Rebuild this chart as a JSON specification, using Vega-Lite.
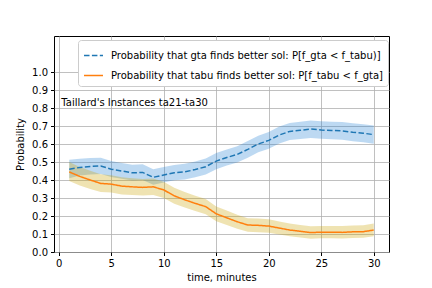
{
  "$schema": "https://vega.github.io/schema/vega-lite/v6.json",
  "width": 335,
  "height": 216,
  "autosize": {"type": "none"},
  "padding": {"left": 54, "top": 36, "right": 43, "bottom": 36},
  "background": "white",
  "config": {
    "font": "DejaVu Sans",
    "view": {"stroke": "black", "strokeWidth": 1},
    "axis": {
      "labelFont": "DejaVu Sans", "labelFontSize": 10, "labelColor": "black",
      "titleFont": "DejaVu Sans", "titleFontSize": 10, "titleFontWeight": "normal", "titleColor": "black",
      "tickColor": "black", "tickSize": 3.5, "domain": false, "labelOverlap": false,
      "gridColor": "#b0b0b0", "gridWidth": 0.8, "labelPadding": 3
    }
  },
  "datasets": {
    "main": [
      {"t":1,"series":"gta","p":0.46,"lo":0.41,"hi":0.512},
      {"t":2,"series":"gta","p":0.47,"lo":0.425,"hi":0.518},
      {"t":3,"series":"gta","p":0.475,"lo":0.43,"hi":0.522},
      {"t":4,"series":"gta","p":0.478,"lo":0.433,"hi":0.523},
      {"t":5,"series":"gta","p":0.46,"lo":0.417,"hi":0.505},
      {"t":6,"series":"gta","p":0.45,"lo":0.407,"hi":0.495},
      {"t":7,"series":"gta","p":0.44,"lo":0.397,"hi":0.485},
      {"t":8,"series":"gta","p":0.442,"lo":0.4,"hi":0.487},
      {"t":9,"series":"gta","p":0.415,"lo":0.374,"hi":0.46},
      {"t":10,"series":"gta","p":0.428,"lo":0.386,"hi":0.472},
      {"t":11,"series":"gta","p":0.44,"lo":0.398,"hi":0.484},
      {"t":12,"series":"gta","p":0.445,"lo":0.403,"hi":0.49},
      {"t":13,"series":"gta","p":0.458,"lo":0.415,"hi":0.503},
      {"t":14,"series":"gta","p":0.474,"lo":0.43,"hi":0.52},
      {"t":15,"series":"gta","p":0.505,"lo":0.46,"hi":0.55},
      {"t":16,"series":"gta","p":0.525,"lo":0.48,"hi":0.57},
      {"t":17,"series":"gta","p":0.542,"lo":0.497,"hi":0.588},
      {"t":18,"series":"gta","p":0.57,"lo":0.524,"hi":0.616},
      {"t":19,"series":"gta","p":0.6,"lo":0.554,"hi":0.646},
      {"t":20,"series":"gta","p":0.62,"lo":0.573,"hi":0.666},
      {"t":21,"series":"gta","p":0.65,"lo":0.603,"hi":0.697},
      {"t":22,"series":"gta","p":0.67,"lo":0.622,"hi":0.717},
      {"t":23,"series":"gta","p":0.676,"lo":0.628,"hi":0.724},
      {"t":24,"series":"gta","p":0.683,"lo":0.634,"hi":0.731},
      {"t":25,"series":"gta","p":0.678,"lo":0.629,"hi":0.727},
      {"t":26,"series":"gta","p":0.675,"lo":0.626,"hi":0.724},
      {"t":27,"series":"gta","p":0.673,"lo":0.624,"hi":0.722},
      {"t":28,"series":"gta","p":0.665,"lo":0.615,"hi":0.715},
      {"t":29,"series":"gta","p":0.66,"lo":0.61,"hi":0.71},
      {"t":30,"series":"gta","p":0.652,"lo":0.602,"hi":0.703},
      {"t":1,"series":"tabu","p":0.445,"lo":0.395,"hi":0.5},
      {"t":2,"series":"tabu","p":0.42,"lo":0.37,"hi":0.472},
      {"t":3,"series":"tabu","p":0.4,"lo":0.35,"hi":0.452},
      {"t":4,"series":"tabu","p":0.381,"lo":0.333,"hi":0.432},
      {"t":5,"series":"tabu","p":0.377,"lo":0.33,"hi":0.427},
      {"t":6,"series":"tabu","p":0.366,"lo":0.32,"hi":0.415},
      {"t":7,"series":"tabu","p":0.362,"lo":0.316,"hi":0.41},
      {"t":8,"series":"tabu","p":0.359,"lo":0.314,"hi":0.406},
      {"t":9,"series":"tabu","p":0.362,"lo":0.317,"hi":0.408},
      {"t":10,"series":"tabu","p":0.345,"lo":0.3,"hi":0.39},
      {"t":11,"series":"tabu","p":0.312,"lo":0.268,"hi":0.357},
      {"t":12,"series":"tabu","p":0.29,"lo":0.247,"hi":0.334},
      {"t":13,"series":"tabu","p":0.27,"lo":0.228,"hi":0.313},
      {"t":14,"series":"tabu","p":0.252,"lo":0.21,"hi":0.294},
      {"t":15,"series":"tabu","p":0.212,"lo":0.171,"hi":0.253},
      {"t":16,"series":"tabu","p":0.19,"lo":0.15,"hi":0.23},
      {"t":17,"series":"tabu","p":0.168,"lo":0.129,"hi":0.207},
      {"t":18,"series":"tabu","p":0.15,"lo":0.112,"hi":0.188},
      {"t":19,"series":"tabu","p":0.148,"lo":0.11,"hi":0.186},
      {"t":20,"series":"tabu","p":0.144,"lo":0.107,"hi":0.182},
      {"t":21,"series":"tabu","p":0.133,"lo":0.097,"hi":0.17},
      {"t":22,"series":"tabu","p":0.122,"lo":0.087,"hi":0.158},
      {"t":23,"series":"tabu","p":0.115,"lo":0.08,"hi":0.15},
      {"t":24,"series":"tabu","p":0.108,"lo":0.074,"hi":0.143},
      {"t":25,"series":"tabu","p":0.11,"lo":0.076,"hi":0.145},
      {"t":26,"series":"tabu","p":0.11,"lo":0.076,"hi":0.145},
      {"t":27,"series":"tabu","p":0.109,"lo":0.075,"hi":0.144},
      {"t":28,"series":"tabu","p":0.112,"lo":0.078,"hi":0.147},
      {"t":29,"series":"tabu","p":0.113,"lo":0.079,"hi":0.148},
      {"t":30,"series":"tabu","p":0.122,"lo":0.087,"hi":0.158}
    ],
    "note": [{"t": 0.25, "p": 0.828, "label": "Taillard's Instances ta21-ta30"}]
  },
  "encoding": {
    "x": {"field": "t", "type": "quantitative",
          "scale": {"domain": [-0.45, 31.45], "nice": false, "zero": false},
          "axis": {"values": [0,5,10,15,20,25,30], "title": "time, minutes", "grid": true, "titlePadding": 4}}
  },
  "layer": [
    {
      "data": {"name": "main"},
      "transform": [{"filter": "datum.series == 'gta'"}],
      "mark": {"type": "area", "opacity": 0.3, "fill": "#2380d4"},
      "encoding": {
        "y": {"field": "lo", "type": "quantitative",
              "scale": {"domain": [0, 1.2], "nice": false},
              "axis": {"values": [0,0.1,0.2,0.3,0.4,0.5,0.6,0.7,0.8,0.9,1.0], "tickCount": 12, "format": ".1f", "title": "Probability", "grid": true, "titlePadding": 6}},
        "y2": {"field": "hi"}
      }
    },
    {
      "data": {"name": "main"},
      "transform": [{"filter": "datum.series == 'tabu'"}],
      "mark": {"type": "area", "opacity": 0.3, "fill": "#caa200"},
      "encoding": {
        "y": {"field": "lo", "type": "quantitative"},
        "y2": {"field": "hi"}
      }
    },
    {
      "data": {"name": "main"},
      "mark": {"type": "line", "strokeWidth": 1.5},
      "encoding": {
        "y": {"field": "p", "type": "quantitative"},
        "color": {"field": "series", "type": "nominal",
                   "scale": {"domain": ["gta", "tabu"], "range": ["#1f77b4", "#ff7f0e"]},
                   "legend": {"title": null, "orient": "none", "legendX": 24, "legendY": 4, "direction": "vertical",
                     "labelExpr": "datum.value == 'gta' ? 'Probability that gta finds better sol: P[f_gta < f_tabu)]' : 'Probability that tabu finds better sol: P[f_tabu < f_gta]'",
                     "labelFont": "DejaVu Sans", "labelFontSize": 10, "labelColor": "black",
                     "symbolType": "stroke", "symbolSize": 360, "symbolStrokeWidth": 1.5,
                     "rowPadding": 4, "padding": 5, "labelOffset": 7,
                     "strokeColor": "#cccccc", "fillColor": "white", "cornerRadius": 3, "labelLimit": 400}},
        "strokeDash": {"field": "series", "type": "nominal",
                       "scale": {"domain": ["gta", "tabu"], "range": [[5.5, 2.4], [1, 0]]},
                       "legend": {"title": null, "orient": "none", "legendX": 24, "legendY": 4, "direction": "vertical",
                     "labelExpr": "datum.value == 'gta' ? 'Probability that gta finds better sol: P[f_gta < f_tabu)]' : 'Probability that tabu finds better sol: P[f_tabu < f_gta]'",
                     "labelFont": "DejaVu Sans", "labelFontSize": 10, "labelColor": "black",
                     "symbolType": "stroke", "symbolSize": 360, "symbolStrokeWidth": 1.5,
                     "rowPadding": 4, "padding": 5, "labelOffset": 7,
                     "strokeColor": "#cccccc", "fillColor": "white", "cornerRadius": 3, "labelLimit": 400}}
      }
    },
    {
      "data": {"name": "note"},
      "mark": {"type": "text", "align": "left", "baseline": "middle", "font": "DejaVu Sans", "fontSize": 10, "color": "black"},
      "encoding": {
        "y": {"field": "p", "type": "quantitative"},
        "text": {"field": "label"}
      }
    }
  ]
}
